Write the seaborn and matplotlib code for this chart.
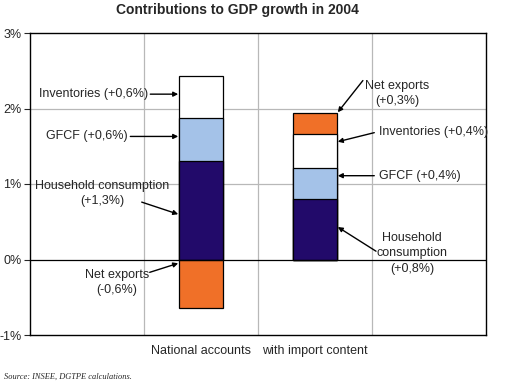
import numpy as np
import pandas as pd
import matplotlib
matplotlib.use("Agg")
import matplotlib.pyplot as plt
import seaborn as sns

# data (percentage points of GDP growth, 2004)
categories = ["National accounts", "with import content"]
household = [1.3, 0.8]
gfcf = [0.57, 0.41]
inventories = [0.56, 0.45]
net_exports = [-0.64, 0.28]

colors = {"household": "#220a6a", "gfcf": "#a4c2e8",
          "inventories": "#ffffff", "net_exports": "#f07028"}

sns.set_style("white")
plt.rcParams['font.family'] = ['Liberation Sans', 'DejaVu Sans']

fig = plt.figure(figsize=(5.05, 3.87), dpi=100)
ax = fig.add_axes([30 / 505, 52 / 387, 456 / 505, 302 / 387])

# stacked positive parts (net exports only stacks on top when positive)
h = np.array(household)
g = h + np.array(gfcf)
inv = g + np.array(inventories)
ne = np.array(net_exports)
top_ne = np.where(ne > 0, inv + ne, np.nan)
low_ne = np.where(ne < 0, ne, np.nan)

order = ["_a", categories[0], categories[1], "_b"]
layers = [(top_ne, "net_exports"), (inv, "inventories"), (g, "gfcf"),
          (h, "household"), (low_ne, "net_exports")]
for vals, key in layers:
    d = pd.DataFrame({"cat": categories, "val": vals}).dropna()
    sns.barplot(data=d, x="cat", y="val", order=order, color=colors[key],
                saturation=1, width=0.39, edgecolor="black", linewidth=0.9,
                ax=ax)

ax.set_xlim(-0.5, 3.5)
ax.set_ylim(-1, 3)
ax.set_yticks([-1, 0, 1, 2, 3])
ax.set_yticklabels(["-1%", "0%", "1%", "2%", "3%"], fontsize=9)
ax.set_xticks([1, 2])
ax.set_xticklabels(categories, fontsize=9)
ax.tick_params(axis="x", length=0, pad=7)
ax.tick_params(axis="y", length=4, width=0.8, direction="out", pad=2, left=True)
ax.set_xlabel("")
ax.set_ylabel("")

for yv in [1, 2]:
    ax.axhline(yv, color="#b8b8b8", lw=0.9, zorder=0)
for xv in [0.5, 1.5, 2.5]:
    ax.axvline(xv, color="#b8b8b8", lw=0.9, zorder=0)
ax.axhline(0, color="black", lw=0.9, zorder=3)
for s in ax.spines.values():
    s.set_visible(True)
    s.set_color("black")
    s.set_linewidth(1.0)

arrow = dict(arrowstyle="-|>", color="black", lw=1.0, mutation_scale=7,
             shrinkA=0, shrinkB=0)
fs = 9


def label(text, xy, ha, arrow_from, arrow_to):
    ax.text(xy[0], xy[1], text, ha=ha, va="center", fontsize=fs,
            linespacing=1.35)
    ax.annotate("", xy=arrow_to, xytext=arrow_from, arrowprops=arrow)


# national accounts
label("Inventories (+0,6%)", (0.535, 2.19), "right", (0.555, 2.19), (0.8, 2.19))
label("GFCF (+0,6%)", (0.36, 1.63), "right", (0.38, 1.63), (0.8, 1.63))
label("Household consumption\n(+1,3%)", (0.13, 0.87), "center",
      (0.48, 0.76), (0.8, 0.6))
label("Net exports\n(-0,6%)", (0.26, -0.3), "center", (0.55, -0.17), (0.8, -0.05))
# with import content
label("Net exports\n(+0,3%)", (2.72, 2.2), "center", (2.42, 2.37), (2.2, 1.95))
label("Inventories (+0,4%)", (2.56, 1.69), "left", (2.52, 1.68), (2.2, 1.56))
label("GFCF (+0,4%)", (2.56, 1.11), "left", (2.52, 1.11), (2.2, 1.11))
label("Household\nconsumption\n(+0,8%)", (2.85, 0.08), "center",
      (2.535, 0.11), (2.2, 0.43))

fig.text(237 / 505, 1 - 10 / 387, "Contributions to GDP growth in 2004",
         ha="center", va="center", fontsize=10, fontweight="bold")
fig.text(4 / 505, 10 / 387, "Source: INSEE, DGTPE calculations.",
         ha="left", va="center", fontsize=6, style="italic",
         family=["Liberation Serif", "DejaVu Serif"])

fig.savefig("out.png", dpi=100)
